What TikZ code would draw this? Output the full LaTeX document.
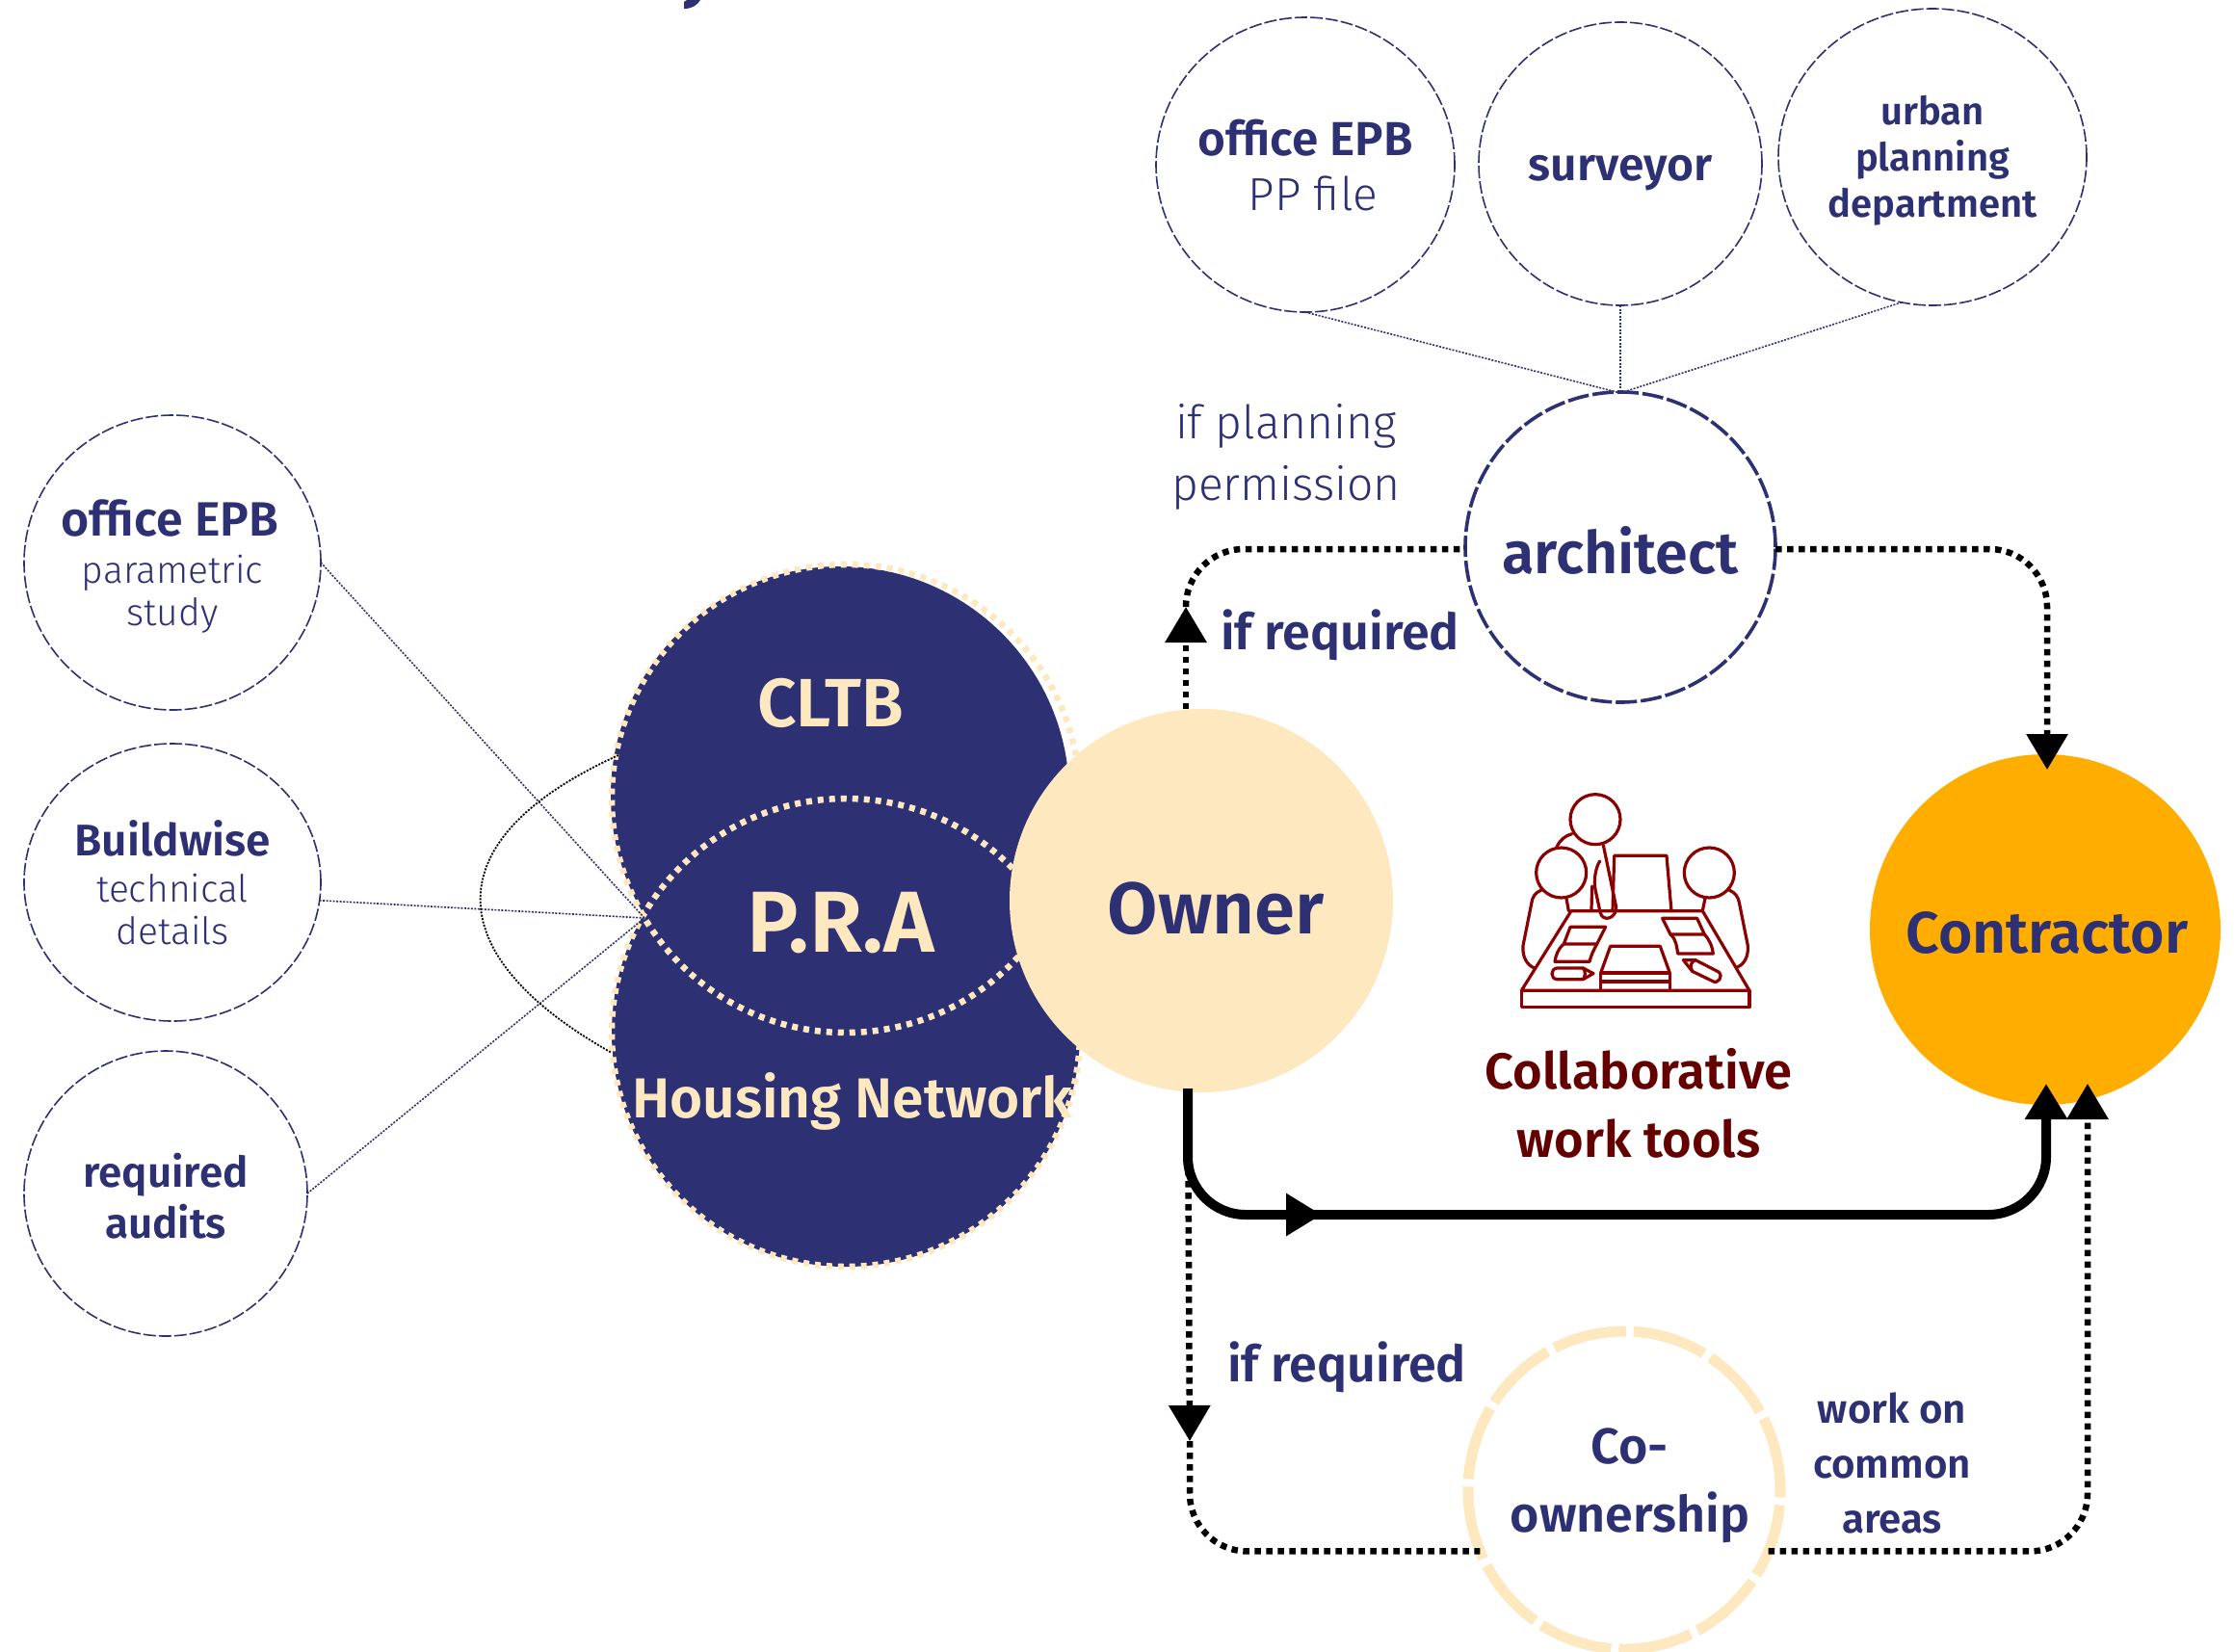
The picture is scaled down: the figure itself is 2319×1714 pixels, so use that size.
\documentclass[tikz,border=0pt]{standalone}
\usepackage{fontspec}
\setmainfont{Fira Sans}[BoldFont={Fira Sans SemiBold}]
\newfontfamily\lightfont{Fira Sans Light}
\usetikzlibrary{arrows.meta,shapes.geometric}
\definecolor{navy}{HTML}{2E3074}
\definecolor{peach}{HTML}{FEE8C0}
\definecolor{amber}{HTML}{FFAE00}
\definecolor{iconred}{HTML}{8B0000}
\definecolor{darkred}{HTML}{650000}
\newcommand{\boldtxt}[2]{\fontsize{#1}{#2}\selectfont\bfseries}
\newcommand{\lighttxt}[2]{\fontsize{#1}{#2}\selectfont\lightfont}
\begin{document}
\begin{tikzpicture}[x=1pt,y=-1pt,
    ring/.style={ellipse,draw=navy,line width=1.6pt,dash pattern=on 13pt off 3pt,inner sep=0pt,outer sep=0pt},
    disc/.style={circle,inner sep=0pt,outer sep=0pt},
    pra dots/.style={draw=peach,line width=6.5pt,dash pattern=on 6pt off 6pt},
    thin link/.style={draw=navy,line width=1.6pt,dash pattern=on 2pt off 1.5pt},
    dot line/.style={draw=black,line width=6.5pt,dash pattern=on 6.5pt off 5.5pt},
    heavy line/.style={draw=black,line width=10pt},
    big tip/.style={-{Triangle[length=37pt,width=42pt]}},
    label text/.style={text=navy,align=center,inner sep=0pt},
    icon/.style={draw=iconred,line width=3.2pt,line join=round,line cap=round}]
  	\useasboundingbox (0,0) rectangle (2319,1714);

  	\fill[navy] (710,9) .. controls (719,9) and (724,5) .. (727,0) -- (713,0) .. controls (712,1) and (711,1) .. (710,2) -- cycle;

  	\node[disc,fill=navy,minimum size=476pt] at (872,826) (cltbdisc) {};
  	\node[disc,fill=navy,minimum size=486pt] at (878,1072) (housingdisc) {};
  	\draw[pra dots] (878,829) circle (243);
  	\draw[pra dots] (878,1072) circle (243);

  	\node[label text,text=peach,font=\boldtxt{71}{76}] at (862,730) (cltb) {CLTB};
  	\node[label text,text=peach,font=\boldtxt{90}{96}] at (873,958) (pra) {P.R.A};
  	\node[label text,text=peach,font=\boldtxt{58.5}{62}] at (885,1143) (housing) {Housing Network};

  	\node[ring,minimum width=308pt,minimum height=306pt] at (179,584) (epbstudy) {};
  	\node[ring,minimum width=308pt,minimum height=288pt] at (179,916) (buildwise) {};
  	\node[ring,minimum width=294pt,minimum height=296pt] at (172,1239) (audits) {};
  	\node[ring,minimum width=310pt,minimum height=306pt] at (1355,171) (epbfile) {};
  	\node[ring,minimum width=294pt,minimum height=294pt] at (1682,170) (surveyor) {};
  	\node[ring,minimum width=320pt,minimum height=308pt] at (2006,163) (urban) {};
  	\node[ring,line width=3.6pt,dash pattern=on 22pt off 4pt,minimum size=322pt] at (1682,568) (architect) {};
  	\node[ring,draw=peach,line width=11pt,dash pattern=on 77pt off 8pt,minimum width=324pt,minimum height=330pt] at (1686,1547) (coowner) {};

  	\node[label text,font=\lighttxt{39}{44}] at (179,588) (epbstudytext) {\boldtxt{50}{44}\hspace*{-6pt}office EPB\\[5pt]parametric\\study};
  	\node[label text,font=\lighttxt{39}{44}] at (179,916) (buildwisetext) {\boldtxt{46}{44}Buildwise\\[4pt]technical\\details};
  	\node[label text,font=\boldtxt{44}{53}] at (172,1242) (auditstext) {required\\audits};
  	\node[label text,font=\lighttxt{48}{57}] at (1355,172) (epbfiletext) {\boldtxt{49.5}{57}office EPB\\\hspace*{16pt}PP file};
  	\node[label text,font=\boldtxt{48}{50}] at (1682,180) (surveyortext) {surveyor};
  	\node[label text,font=\boldtxt{40}{48}] at (2006,167) (urbantext) {urban\\planning\\department};
  	\node[label text,font=\boldtxt{61}{64}] at (1682,571) (architecttext) {architect};
  	\node[label text,font=\boldtxt{52}{71}] at (1692,1542) (coownertext) {Co-\\ownership};

  	\coordinate (meet) at (669,953);
  	\coordinate (archtop) at (1682,408);
  	\coordinate (curvetop) at (642,784);
  	\coordinate (curvebot) at (635,1093);

  	\path[thin link]
  	(epbstudy.east) edge (meet)
  	(buildwise.-7) edge (meet)
  	(audits.east) edge (meet);

  	\path[thin link]
  	(epbfile.south) edge (archtop)
  	(surveyor.south) edge (archtop)
  	(urban.-102) edge (archtop);

  	\draw[draw=black,line width=1.8pt,dash pattern=on 2pt off 1.5pt] (curvetop) .. controls (452,870) and (452,990) .. (curvebot);

  	\node[disc,fill=peach,minimum size=398pt] at (1247,935) (owner) {};
  	\node[disc,fill=amber,minimum size=364pt] at (2123,965) (contractor) {};
  	\node[label text,font=\boldtxt{76}{80}] at (1262,943) (ownerlabel) {Owner};
  	\node[label text,font=\boldtxt{60.7}{64}] at (2125,968) (contractorlabel) {Contractor};

  	\node[label text,font=\lighttxt{48}{64}] at (1335,474) (planning) {if planning\\permission};
  	\node[label text,font=\boldtxt{52}{60}] at (1391,659) (reqtop) {if required};
  	\node[label text,font=\boldtxt{52}{60}] at (1398,1419) (reqbot) {if required};
  	\node[label text,font=\boldtxt{42}{57}] at (1964,1519) (common) {work on\\common\\areas};
  	\node[label text,text=darkred,font=\boldtxt{52.5}{71}] at (1701,1145) (tools) {Collaborative\\work tools};

  	\coordinate (uptip) at (1231,630);
  	\coordinate (downtip) at (1235,1496);
  	\coordinate (midtip) at (1372,1261);

  	\draw[dot line,big tip] (owner.north -| uptip) -- (uptip);
  	\draw[dot line,rounded corners=60pt] (uptip) |- ([yshift=-2pt]architect.west);
  	\draw[dot line,rounded corners=60pt,big tip] ([yshift=-2pt]architect.east) -| ([xshift=2pt,yshift=-16pt]contractor.north);
  	\draw[dot line,big tip] (1233,1130) -- (downtip);
  	\draw[dot line,rounded corners=60pt] (downtip) |- (coowner.-157);
  	\draw[dot line,rounded corners=60pt,big tip] (coowner.-23) -| (2167,1125);

  	\draw[heavy line,rounded corners=60pt,big tip] (1233,1130) |- (midtip);
  	\draw[heavy line,rounded corners=60pt,big tip] ([xshift=-12pt]midtip) -| (2124,1125);

  	\begin{scope}[shift={(1530,800)},x=0.3333pt,y=-0.3333pt]
  	    \draw[icon] (378,152) circle (78);
  	    \draw[icon] (272,318) circle (78);
  	    \draw[icon] (733,318) circle (78);
  	    \draw[icon] (148,685) -- (303,437) -- (712,437) -- (858,685) -- cycle;
  	    \draw[icon] (148,685) rectangle (858,737);
  	    \draw[icon] (432,437) -- (437,265) -- (600,265) -- (615,437);
  	    \draw[icon] (210,372) .. controls (190,380) and (182,395) .. (180,410) -- (153,545) .. controls (150,580) and (165,605) .. (188,615);
  	    \draw[icon] (288,398) -- (295,437);
  	    \draw[icon] (795,372) .. controls (815,380) and (823,395) .. (826,410) -- (853,545) .. controls (856,580) and (840,605) .. (820,612);
  	    \draw[icon] (720,398) -- (712,437);
  	    \draw[icon] (258,238) .. controls (268,215) and (285,203) .. (305,197);
  	    \draw[icon] (403,232) -- (443,425) .. controls (445,460) and (400,475) .. (393,440) -- (378,370) .. controls (372,340) and (380,300) .. (392,282);
  	    \draw[icon] (368,360) -- (366,432);
  	    \draw[icon] (300,487) -- (410,487) -- (383,540) -- (280,540) -- cycle;
  	    \draw[icon] (280,540) .. controls (262,555) and (255,575) .. (252,595) -- (360,595) .. controls (365,575) and (372,560) .. (383,540);
  	    \draw[icon] (340,615) -- (258,615) .. controls (238,618) and (238,648) .. (258,650) -- (340,650) -- (372,632) -- cycle;
  	    \draw[icon] (340,615) .. controls (348,625) and (348,640) .. (340,650);
  	    \draw[icon] (425,547) -- (580,547) -- (610,630) -- (395,630) -- cycle;
  	    \draw[icon] (395,630) rectangle (610,685);
  	    \draw[icon] (395,657) -- (610,657);
  	    \draw[icon] (587,460) -- (695,460) -- (718,510) -- (612,510) -- cycle;
  	    \draw[icon] (612,510) .. controls (630,525) and (632,550) .. (635,570) -- (745,570) .. controls (742,545) and (732,525) .. (718,510);
  	    \draw[icon] (652,590) -- (690,590) -- (762,627) .. controls (778,640) and (760,668) .. (742,655) -- (680,625) -- cycle;
  	    \draw[icon] (690,590) .. controls (675,595) and (672,610) .. (680,625);
  	\end{scope}
\end{tikzpicture}
\end{document}
